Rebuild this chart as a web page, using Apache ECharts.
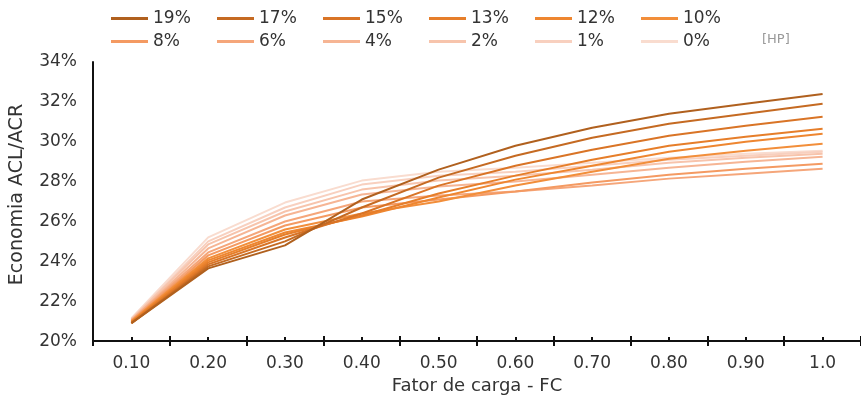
<!DOCTYPE html>
<html>
<head>
<meta charset="utf-8">
<script src="https://cdn.jsdelivr.net/npm/echarts@6/dist/echarts.min.js"></script>
<style>html,body{margin:0;padding:0;background:#fff}#c{width:861px;height:400px}</style>
</head>
<body>
<div id="c"></div>
<script>
const categories = ['0.10','0.20','0.30','0.40','0.50','0.60','0.70','0.80','0.90','1.0'];
const seriesNames = ['19%','17%','15%','13%','12%','10%','8%','6%','4%','2%','1%','0%'];
const s19 = [20.9, 23.65, 24.8, 27.1, 28.6, 29.8, 30.7, 31.4, 31.9, 32.4];
const s17 = [20.9, 23.75, 25.0, 26.7, 28.2, 29.3, 30.2, 30.9, 31.4, 31.9];
const s15 = [20.9, 23.85, 25.2, 26.4, 27.8, 28.8, 29.6, 30.3, 30.8, 31.25];
const s13 = [20.95, 23.95, 25.35, 26.3, 27.4, 28.3, 29.1, 29.8, 30.25, 30.65];
const s12 = [20.95, 24.05, 25.45, 26.25, 27.2, 28.1, 28.8, 29.5, 30.0, 30.4];
const s10 = [21.0, 24.15, 25.6, 26.4, 27.0, 27.8, 28.5, 29.15, 29.55, 29.9];
const s8 = [21.0, 24.3, 25.8, 26.7, 27.1, 27.5, 27.95, 28.35, 28.65, 28.9];
const s6 = [21.05, 24.45, 26.0, 27.0, 27.3, 27.5, 27.8, 28.15, 28.4, 28.65];
const s4 = [21.05, 24.65, 26.3, 27.35, 27.75, 28.0, 28.35, 28.7, 29.0, 29.25];
const s2 = [21.1, 24.85, 26.5, 27.6, 28.05, 28.3, 28.6, 28.95, 29.2, 29.4];
const s1 = [21.1, 25.0, 26.7, 27.85, 28.3, 28.5, 28.8, 29.1, 29.3, 29.5];
const s0 = [21.15, 25.2, 26.95, 28.05, 28.5, 28.7, 28.95, 29.2, 29.4, 29.55];
const seriesData = [s19, s17, s15, s13, s12, s10, s8, s6, s4, s2, s1, s0];
const colors = ['#b0601e','#c56a22','#d97426','#e67e2a','#ee8630','#f28e3a','#f49a62','#f5a67a','#f6b594','#f7c4ac','#f8d0bf','#f9dccf'];
const yTicks = {min: 20, max: 34, interval: 2};

const font = 'DejaVu Sans, sans-serif';
const chart = echarts.init(document.getElementById('c'));

const legends = seriesNames.map((n, i) => ({
  data: [n], left: 111 + (i % 6) * 106, top: i < 6 ? 10 : 33, padding: 0,
  icon: 'rect', itemWidth: 37, itemHeight: 3, itemGap: 0,
  textStyle: {fontFamily: font, fontSize: 17, color: '#333', padding: [0, 0, 0, 0]},
  selectedMode: false
}));

chart.setOption({
  animation: false,
  color: colors,
  legend: legends,
  graphic: [{
    type: 'text', left: 762, top: 33,
    style: {text: '[HP]', fill: '#999', fontSize: 13, fontFamily: font}
  }],
  grid: {left: 92, right: 0, top: 62, bottom: 56},
  xAxis: [{
    type: 'category', data: categories, boundaryGap: true, position: 'bottom',
    axisLine: {show: true, lineStyle: {color: '#111', width: 2}},
    axisTick: {show: true, length: 5, lineStyle: {color: '#111', width: 2}},
    axisLabel: {fontFamily: font, fontSize: 17, color: '#333', margin: 14},
    name: 'Fator de carga - FC', nameLocation: 'middle', nameGap: 33,
    nameTextStyle: {fontFamily: font, fontSize: 18, color: '#333'},
    splitLine: {show: false}
  }, {
    type: 'category', data: categories, boundaryGap: true, position: 'bottom',
    axisLine: {show: false},
    axisTick: {show: true, inside: true, length: 5, lineStyle: {color: '#111', width: 2}},
    axisLabel: {show: false}, splitLine: {show: false}
  }, {
    type: 'category', data: categories, boundaryGap: true, position: 'bottom',
    axisLine: {show: false},
    axisTick: {show: true, inside: true, alignWithLabel: true, length: 4, lineStyle: {color: '#111', width: 2}},
    axisLabel: {show: false}, splitLine: {show: false}
  }],
  yAxis: {
    type: 'value', min: yTicks.min, max: yTicks.max, interval: yTicks.interval,
    axisLine: {show: true, lineStyle: {color: '#111', width: 2}},
    axisTick: {show: false},
    splitLine: {show: false},
    axisLabel: {fontFamily: font, fontSize: 17, color: '#333', margin: 16, formatter: '{value}%'},
    name: 'Economia ACL/ACR', nameLocation: 'middle', nameGap: 66,
    nameTextStyle: {fontFamily: font, fontSize: 19, color: '#333', padding: [0, 0, 0, 14]}
  },
  series: seriesNames.map((n, i) => ({
    name: n, type: 'line', data: seriesData[i], symbol: 'none',
    lineStyle: {width: 2, color: colors[i]}, itemStyle: {color: colors[i]},
    z: 20 - i
  }))
});
</script>
</body>
</html>
